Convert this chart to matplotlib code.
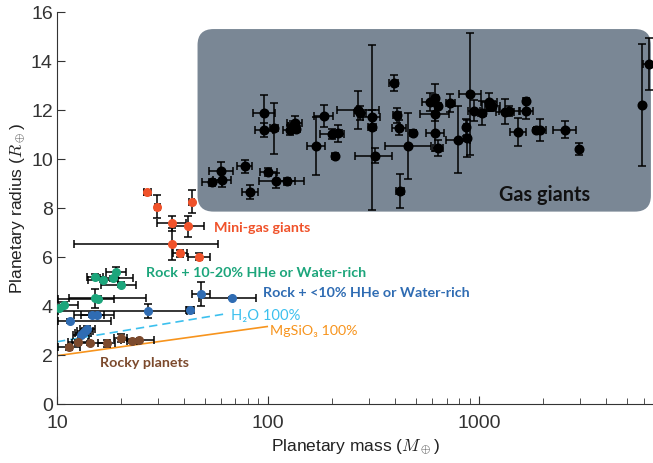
import matplotlib
matplotlib.use("Agg")
import matplotlib.pyplot as plt
from matplotlib.patches import FancyBboxPatch
from matplotlib.transforms import IdentityTransform
from matplotlib.ticker import FuncFormatter, FixedLocator

plt.rcParams['mathtext.fontset'] = 'cm'

# ---- data (mass in Earth masses, radius in Earth radii) ----
# gas giants: mass, radius, mass err low, mass err high, radius err
gas_mass = [54.1, 60.4, 59.7, 77.4, 82.3, 100.2, 109.4, 122.8, 95.5, 95.5, 106.2,
            126.5, 131.2, 133.4, 135.5, 168, 183.7, 200.6, 213.4, 208, 266.6, 272,
            309.5, 310, 320.7, 393, 408, 418, 485, 460, 423, 582, 615, 638, 615,
            615, 638, 730, 794, 869, 876, 908, 942, 1030, 1112, 1121, 1155, 1321,
            1384, 1661, 1670, 1527, 1866, 1935, 2541, 2965, 5875, 6380]
gas_rad = [9.05, 9.13, 9.51, 9.70, 8.65, 9.46, 9.11, 9.09, 11.87, 11.18, 11.25,
           11.18, 11.36, 11.47, 11.24, 10.52, 11.76, 11.03, 11.05, 10.12, 12.01, 11.87,
           11.70, 11.29, 10.13, 13.10, 11.78, 11.28, 11.07, 10.52, 8.68, 12.31, 12.49,
           12.15, 11.84, 11.06, 10.44, 12.27, 10.79, 11.29, 10.84, 12.65, 11.97, 11.87,
           12.31, 12.15, 12.15, 11.93, 11.97, 12.38, 11.97, 11.11, 11.18, 11.18, 11.2,
           10.41, 12.2, 13.88]
gas_mlo = [5.6, 5.4, 7.3, 6.3, 6.9, 9.0, 18.9, 13.4, 10.5, 8.9, 4.6,
           9.3, 6.9, 10.4, 6.0, 15.7, 18.1, 24.6, 9.0, 6.6, 54.7, 17.3,
           26.8, 13.3, 64, 18.7, 17.6, 30.6, 15.6, 102, 18, 48, 20, 20, 90,
           56, 34, 37, 95, 25, 25, 103, 60, 40, 93, 30, 91, 123,
           143, 40, 118, 133, 40, 123, 297, 40, 0, 405]
gas_mhi = [6.2, 6.0, 8.4, 6.8, 7.5, 9.9, 24, 25.7, 11.8, 9.8, 4.7,
           10.0, 7.3, 11.4, 6.3, 17.3, 20, 28, 9.5, 6.8, 68.8, 18.4,
           29.4, 13.8, 66, 19.7, 18.2, 33, 16, 131, 19, 53, 21, 21, 105,
           63, 36, 39, 108, 26, 26, 116, 64, 42, 101, 32, 98, 136,
           159, 42, 127, 145, 42, 131, 338, 42, 0, 432]
gas_rerr = [0.15, 0.29, 0.35, 0.27, 0.29, 0.15, 0.31, 0.15, 0.75, 0.3, 1.04,
            0.2, 0.2, 0.3, 0.15, 1.19, 0.44, 0.2, 0.34, 0.1, 0.77, 0.3,
            0.3, 3.37, 0.3, 0.34, 0.3, 0.3, 0.1, 1.34, 0.7, 0.37, 0.58, 0.1, 0.3,
            0.75, 0.32, 0.37, 1.35, 0.34, 0.75, 2.47, 0.42, 0.5, 0.37, 0.2, 0.2, 0.5,
            0.2, 0.1, 0.34, 0.58, 0.1, 0.44, 0.34, 0.25, 2.48, 1.05]

mini_mass = [26.8, 29.9, 43.4, 34.9, 41.9, 34.9, 38.2, 47.0]
mini_rad = [8.64, 8.05, 8.26, 7.37, 7.25, 6.53, 6.15, 6.01]
mini_mlo = [1.05, 0.9, 1.0, 5.0, 6.7, 22.8, 2.7, 5.1]
mini_mhi = [1.1, 0.9, 1.0, 5.8, 8.0, 23.1, 2.9, 5.8]
mini_rerr = [0.1, 0.48, 0.46, 0.3, 0.42, 0.65, 0.14, 0.15]

green_mass = [10.2, 10.85, 15.2, 16.5, 18.4, 19.1, 20.0, 15.2, 15.6]
green_rad = [3.91, 4.05, 5.2, 5.07, 5.13, 5.37, 4.87, 4.31, 4.29]
green_mlo = [0.3, 0.58, 1.3, 2.55, 2.5, 2.0, 3.8, 3.75, 5.5]
green_mhi = [0.3, 1.7, 1.4, 2.9, 4.4, 2.2, 3.7, 11.3, 3.1]
green_rerr = [0.1, 0.1, 0.1, 0.1, 0.1, 0.22, 0.1, 0.4, 0.1]

blue_mass = [11.55, 14.7, 15.4, 27.1, 42.6, 47.9, 67.1, 13.0, 13.3, 13.6, 13.9]
blue_rad = [3.38, 3.63, 3.63, 3.80, 3.85, 4.49, 4.33, 2.80, 2.90, 2.99, 3.08]
blue_mlo = [1.45, 2.6, 2.4, 17.0, 1.8, 4.5, 19.8, 1.1, 1.1, 1.1, 1.1]
blue_mhi = [6.55, 2.0, 3.3, 14.4, 1.9, 4.9, 20.5, 1.2, 1.2, 1.2, 1.2]
blue_rerr = [0.08, 0.1, 0.1, 0.3, 0.12, 0.5, 0.05, 0.05, 0.05, 0.1, 0.1]

rocky_mass = [11.37, 12.55, 14.36, 17.2, 20.0, 22.7, 24.4]
rocky_rad = [2.31, 2.52, 2.48, 2.48, 2.69, 2.57, 2.60]
rocky_mlo = [1.27, 1.3, 2.56, 1.5, 1.3, 1.2, 4.3]
rocky_mhi = [1.43, 1.4, 3.3, 1.6, 1.4, 1.3, 4.4]
rocky_rerr = [0.1, 0.1, 0.07, 0.15, 0.15, 0.1, 0.07]

h2o_mass = [10, 62]
h2o_rad = [2.54, 3.67]
mgsio3_mass = [10, 99]
mgsio3_rad = [1.97, 3.16]

gas_box_mass = [46.3, 6500]
gas_box_rad = [7.85, 15.3]

C_MINI = '#f0522a'
C_GREEN = '#1ca57b'
C_BLUE = '#2f6cb3'
C_ROCKY = '#7c4a2d'
C_H2O = '#3cc0ee'
C_MGS = '#f7941d'

fig = plt.figure(figsize=(6.53, 4.64), dpi=100)
ax = fig.add_axes([0.0873, 0.1272, 0.9127, 0.845])
ax.set_xscale('log')
ax.set_xlim(10, 6650)
ax.set_ylim(0, 16)

# gas giant region (rounded box in pixel units)
(x0, y0) = ax.transData.transform((gas_box_mass[0], gas_box_rad[0]))
(x1, y1) = ax.transData.transform((gas_box_mass[1], gas_box_rad[1]))
box = FancyBboxPatch((x0, y0), x1 - x0, y1 - y0,
                     boxstyle="round,pad=0,rounding_size=16",
                     transform=IdentityTransform(), facecolor='#7a8795',
                     edgecolor='none', zorder=0)
ax.add_patch(box)

ax.plot(h2o_mass, h2o_rad, color=C_H2O, lw=1.2, dashes=(5, 3), zorder=1)
ax.plot(mgsio3_mass, mgsio3_rad, color=C_MGS, lw=1.2, zorder=1)

ekw = dict(fmt='o', ecolor='black', elinewidth=1.1, capsize=3, capthick=1.1, zorder=3)
ax.errorbar(gas_mass, gas_rad, xerr=[gas_mlo, gas_mhi], yerr=gas_rerr,
            color='black', ms=6.2, **ekw)
for m, r, lo, hi, re, c in [
        (mini_mass, mini_rad, mini_mlo, mini_mhi, mini_rerr, C_MINI),
        (green_mass, green_rad, green_mlo, green_mhi, green_rerr, C_GREEN),
        (blue_mass, blue_rad, blue_mlo, blue_mhi, blue_rerr, C_BLUE),
        (rocky_mass, rocky_rad, rocky_mlo, rocky_mhi, rocky_rerr, C_ROCKY)]:
    ax.errorbar(m, r, xerr=[lo, hi], yerr=re, color=c, ms=5.5, **ekw)

tf = ['Lato', 'DejaVu Sans']
tkw = dict(fontsize=10.3, fontweight='bold', family=tf, ha='left', va='center', zorder=4)
ax.text(55.2, 7.22, 'Mini-gas giants', color=C_MINI, **tkw)
ax.text(26.3, 5.39, 'Rock + 10-20% HHe or Water-rich', color=C_GREEN, **tkw)
ax.text(94.2, 4.57, 'Rock + <10% HHe or Water-rich', color=C_BLUE, **tkw)
ax.text(67, 3.63, 'H₂O 100%', color=C_H2O, fontsize=10.6, family=tf, ha='left', va='center')
ax.text(101.6, 3.02, 'MgSiO₃ 100%', color=C_MGS, fontsize=10.3, family=tf, ha='left', va='center')
ax.text(15.9, 1.71, 'Rocky planets', color=C_ROCKY, **tkw)
ax.text(2044, 8.57, 'Gas giants', color='#111111', fontsize=14.3, fontweight='bold',
        family=tf, ha='center', va='center', zorder=4)

ax.spines['top'].set_visible(False)
ax.spines['right'].set_visible(False)
for s in ('left', 'bottom'):
    ax.spines[s].set_color('#333333')
ax.yaxis.set_major_locator(FixedLocator(range(0, 17, 2)))
ax.xaxis.set_major_formatter(FuncFormatter(lambda v, p: f'{v:g}'))
ax.tick_params(which='both', direction='in', colors='#333333', labelsize=14)
ax.tick_params(which='major', length=6)
ax.tick_params(which='minor', length=4)
ax.tick_params(axis='x', which='major', pad=7)
ax.tick_params(axis='y', which='major', pad=3)
for lbl in ax.get_xticklabels() + ax.get_yticklabels():
    lbl.set_family('Liberation Sans')

ax.set_xlabel(r'Planetary mass ($M_\oplus$)', fontsize=12.5, family='Liberation Sans',
              color='#222222', labelpad=4)
ax.set_ylabel(r'Planetary radius ($R_\oplus$)', fontsize=12.5, family='Liberation Sans',
              color='#222222', labelpad=3)

fig.savefig('out.png', dpi=100)
